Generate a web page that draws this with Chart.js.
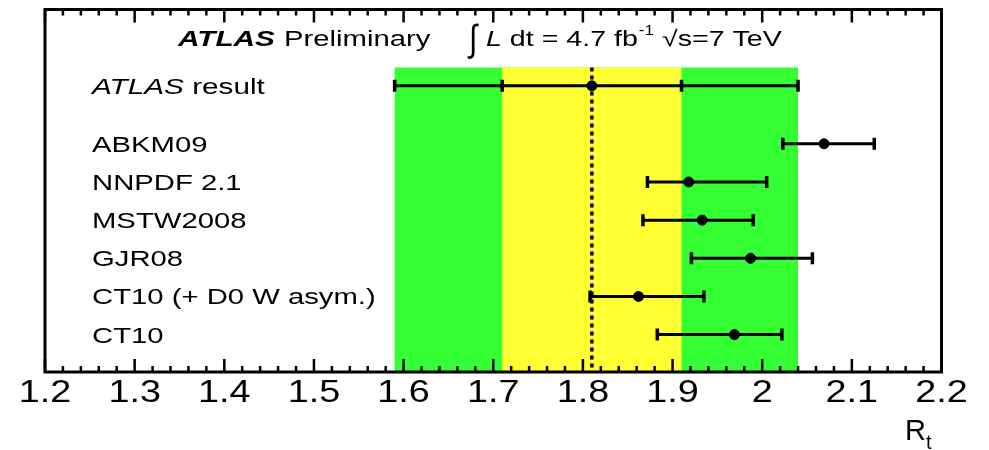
<!DOCTYPE html>
<html lang="en">
<head>
  <meta charset="UTF-8" />
  <title>ATLAS R_t</title>
  <style>
    html, body { margin: 0; padding: 0; background: #fff; }
    #wrap { width: 989px; height: 450px; }
  </style>
</head>
<body>
  <div id="wrap"><canvas id="rtChart" width="989" height="450"></canvas></div>

  <script src="https://cdn.jsdelivr.net/npm/chart.js"></script>
  <script>
    // PDF predictions (one row each)
    const categories = ['ABKM09', 'NNPDF 2.1', 'MSTW2008', 'GJR08', 'CT10 (+ D0 W asym.)', 'CT10'];
    const rowPos = [1.52, 2.52, 3.52, 4.52, 5.52, 6.52];
    const central = [2.069, 1.918, 1.933, 1.987, 1.862, 1.969];
    const errLow = [2.023, 1.872, 1.867, 1.921, 1.808, 1.883];
    const errHigh = [2.125, 2.005, 1.990, 2.056, 1.935, 2.022];

    // ATLAS measurement
    const atlasRow = 0;
    const atlasValue = 1.81;
    const atlasStat = [1.71, 1.91];
    const atlasTotal = [1.59, 2.04];
    const bandTop = -0.48;

    // axis
    const xMin = 1.2, xMax = 2.2, xStep = 0.1, xMinor = 0.02;
    const yMin = -2, yMax = 7.5;

    const FONT = '"Liberation Sans", Arial, Helvetica, sans-serif';

    function stretchText(ctx, txt, x, y, font, sx, align, sy) {
      ctx.save();
      ctx.font = font;
      ctx.textAlign = align || 'left';
      ctx.textBaseline = 'alphabetic';
      ctx.translate(x, y);
      ctx.scale(sx, sy || 1);
      ctx.fillText(txt, 0, 0);
      const w = ctx.measureText(txt).width * sx;
      ctx.restore();
      return w;
    }

    // green/yellow bands behind everything
    const bandsPlugin = {
      id: 'bands',
      beforeDatasetsDraw(chart) {
        const { ctx, chartArea, scales: { x, y } } = chart;
        const top = y.getPixelForValue(bandTop);
        ctx.save();
        ctx.fillStyle = '#33ff33';
        ctx.fillRect(x.getPixelForValue(atlasTotal[0]), top,
          x.getPixelForValue(atlasTotal[1]) - x.getPixelForValue(atlasTotal[0]), chartArea.bottom - top);
        ctx.fillStyle = '#ffff33';
        ctx.fillRect(x.getPixelForValue(atlasStat[0]), top,
          x.getPixelForValue(atlasStat[1]) - x.getPixelForValue(atlasStat[0]), chartArea.bottom - top);
        ctx.restore();
      }
    };

    // frame, inward ticks, labels, header
    const framePlugin = {
      id: 'frame',
      afterDraw(chart) {
        const { ctx, chartArea: a, scales: { x, y } } = chart;
        ctx.save();
        ctx.strokeStyle = '#000';
        ctx.fillStyle = '#000';

        // ticks
        ctx.lineWidth = 2.5;
        const n = Math.round((xMax - xMin) / xMinor);
        for (let i = 0; i <= n; i++) {
          const px = x.getPixelForValue(xMin + i * xMinor);
          const len = i % 5 === 0 ? 13 : 6;
          ctx.beginPath();
          ctx.moveTo(px, a.bottom); ctx.lineTo(px, a.bottom - len);
          ctx.moveTo(px, a.top); ctx.lineTo(px, a.top + len);
          ctx.stroke();
        }

        // frame
        ctx.lineWidth = 3;
        ctx.strokeRect(a.left, a.top, a.right - a.left, a.bottom - a.top);

        // tick labels
        x.ticks.forEach(t => {
          stretchText(ctx, t.label, x.getPixelForValue(t.value), 402, '32px ' + FONT, 1.18, 'center');
        });

        // axis title R_t
        stretchText(ctx, 'R', 905, 440, '29px ' + FONT, 1.0);
        stretchText(ctx, 't', 926, 449, '20px ' + FONT, 1.0);

        // row labels
        const lx = 92;
        let w = stretchText(ctx, 'ATLAS', lx, y.getPixelForValue(atlasRow) + 8, 'italic 22px ' + FONT, 1.35);
        stretchText(ctx, ' result', lx + w, y.getPixelForValue(atlasRow) + 8, '22px ' + FONT, 1.35);
        categories.forEach((c, i) => {
          stretchText(ctx, c, lx, y.getPixelForValue(rowPos[i]) + 8, '22px ' + FONT, 1.33);
        });

        // header
        const hb = 46;
        stretchText(ctx, 'ATLAS', 178, hb, 'italic bold 22px ' + FONT, 1.35);
        stretchText(ctx, 'Preliminary', 284, hb, '22px ' + FONT, 1.33);
        stretchText(ctx, '\u222B', 469, hb + 5, '30px ' + FONT, 1.0, 'left', 1.25);
        let hx = 486;
        hx += stretchText(ctx, 'L', hx, hb, 'italic 22px ' + FONT, 1.3);
        hx += stretchText(ctx, ' dt = 4.7 fb', hx, hb, '22px ' + FONT, 1.3);
        stretchText(ctx, '-1', hx + 1, hb - 11, '14px ' + FONT, 1.2);
        stretchText(ctx, '\u221As=7 TeV', 662, hb, '22px ' + FONT, 1.3);

        ctx.restore();
      }
    };

    const datasets = [];

    // dotted line at the ATLAS central value
    datasets.push({
      data: [{ x: atlasValue, y: bandTop }, { x: atlasValue, y: yMax }],
      showLine: true,
      borderColor: '#000',
      borderWidth: 3.5,
      borderDash: [4, 4],
      pointRadius: 0
    });

    // ATLAS error bar (stat inner caps, total outer caps)
    datasets.push({
      data: [atlasTotal[0], atlasStat[0], atlasStat[1], atlasTotal[1]].map(v => ({ x: v, y: atlasRow })),
      showLine: true,
      borderColor: '#000',
      borderWidth: 3,
      pointStyle: 'line',
      rotation: 90,
      pointRadius: 6,
      pointBorderWidth: 3.5,
      pointBorderColor: '#000'
    });

    // prediction error bars
    categories.forEach((c, i) => {
      datasets.push({
        label: c,
        data: [{ x: errLow[i], y: rowPos[i] }, { x: errHigh[i], y: rowPos[i] }],
        showLine: true,
        borderColor: '#000',
        borderWidth: 3,
        pointStyle: 'line',
        rotation: 90,
        pointRadius: 6,
        pointBorderWidth: 3.5,
        pointBorderColor: '#000'
      });
    });

    // central points
    datasets.push({
      data: central.map((v, i) => ({ x: v, y: rowPos[i] })).concat([{ x: atlasValue, y: atlasRow }]),
      showLine: false,
      pointStyle: 'circle',
      pointRadius: 5,
      pointBackgroundColor: '#000',
      pointBorderColor: '#000',
      pointBorderWidth: 1
    });

    new Chart(document.getElementById('rtChart'), {
      type: 'scatter',
      data: { datasets },
      options: {
        responsive: false,
        animation: false,
        devicePixelRatio: 1,
        layout: { padding: { left: 45, right: 47.5, top: 6.5, bottom: 0 } },
        plugins: { legend: { display: false }, tooltip: { enabled: false } },
        scales: {
          x: {
            type: 'linear',
            min: xMin,
            max: xMax,
            ticks: { display: false, stepSize: xStep, callback: v => String(+v.toFixed(1)) },
            grid: { display: false },
            border: { display: false },
            afterFit(scale) { scale.height = 78; }
          },
          y: {
            type: 'linear',
            min: yMin,
            max: yMax,
            reverse: true,
            display: false
          }
        }
      },
      plugins: [bandsPlugin, framePlugin]
    });
  </script>
</body>
</html>
